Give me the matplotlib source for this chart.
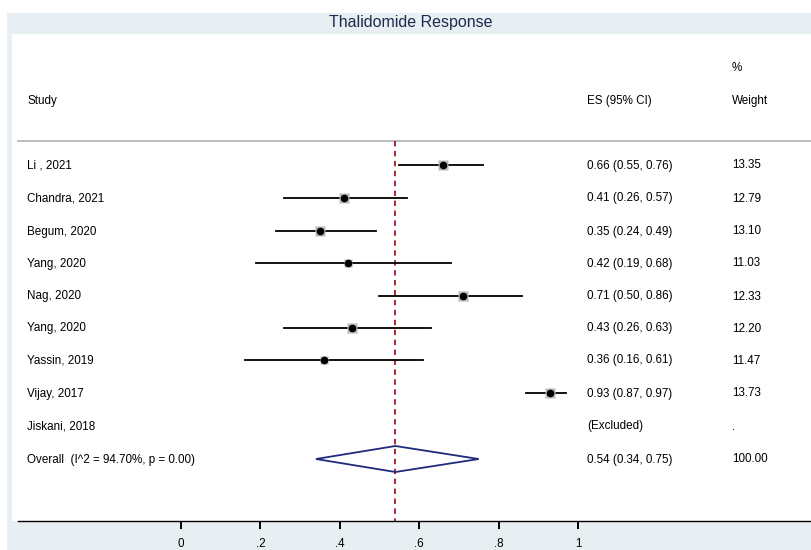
import numpy as np
import matplotlib.pyplot as plt
from matplotlib.patches import Rectangle, Polygon

plt.rcParams['font.family'] = ['Liberation Sans', 'DejaVu Sans']

studies = ['Li , 2021', 'Chandra, 2021', 'Begum, 2020', 'Yang, 2020', 'Nag, 2020',
           'Yang, 2020', 'Yassin, 2019', 'Vijay, 2017', 'Jiskani, 2018']
es = [0.66, 0.41, 0.35, 0.42, 0.71, 0.43, 0.36, 0.93, np.nan]
lo = [0.55, 0.26, 0.24, 0.19, 0.50, 0.26, 0.16, 0.87, np.nan]
hi = [0.76, 0.57, 0.49, 0.68, 0.86, 0.63, 0.61, 0.97, np.nan]
weights = [13.35, 12.79, 13.10, 11.03, 12.33, 12.20, 11.47, 13.73, np.nan]
es_labels = ['0.66 (0.55, 0.76)', '0.41 (0.26, 0.57)', '0.35 (0.24, 0.49)',
             '0.42 (0.19, 0.68)', '0.71 (0.50, 0.86)', '0.43 (0.26, 0.63)',
             '0.36 (0.16, 0.61)', '0.93 (0.87, 0.97)', '(Excluded)']
w_labels = ['13.35', '12.79', '13.10', '11.03', '12.33', '12.20', '11.47', '13.73', '.']
overall = 0.54
overall_lo = 0.34
overall_hi = 0.75
overall_label = 'Overall  (I^2 = 94.70%, p = 0.00)'
overall_es = '0.54 (0.34, 0.75)'
overall_w = '100.00'
xticks = [0, 0.2, 0.4, 0.6, 0.8, 1]
xticklabels = ['0', '.2', '.4', '.6', '.8', '1']

W, H = 811, 550
FS = 8.4
fig = plt.figure(figsize=(W / 100, H / 100), dpi=100, facecolor='white')
fig.patches.append(Rectangle((7 / W, 0), 1 - 7 / W, (H - 13) / H, transform=fig.transFigure,
                             facecolor='#e8eff2', edgecolor='none', zorder=-5))
fig.text(411 / W, 1 - 22 / H, 'Thalidomide Response', ha='center', va='center',
         fontsize=11.5, color='#1c2a4e')

ax = fig.add_axes([12 / W, 1 - 521 / H, 1 - 12 / W, (521 - 34) / H], zorder=2)
ax.set_facecolor('white')
x0 = 181
scale = 397
ax.set_xlim((12 - x0) / scale, (W - x0) / scale)
ax.set_ylim(521, 34)

def px(p):
    return (p - x0) / scale

for s in ['top', 'right', 'left']:
    ax.spines[s].set_visible(False)
ax.spines['bottom'].set_bounds(px(18), px(W))
ax.spines['bottom'].set_linewidth(1.0)
ax.set_yticks([])
ax.set_xticks(xticks)
ax.set_xticklabels(xticklabels, fontsize=FS)
ax.tick_params(axis='x', direction='out', length=6, width=1.4, pad=6)

rows = [165, 198, 231, 263, 296, 328, 360, 393, 426]
y_over = 459

# header
ax.text(px(27), 101, 'Study', fontsize=FS, va='center')
ax.text(px(587), 101, 'ES (95% CI)', fontsize=FS, va='center')
ax.text(px(732), 68, '%', fontsize=FS, va='center')
ax.text(px(732), 101, 'Weight', fontsize=FS, va='center')
ax.plot([px(18), px(W)], [141, 141], color='#b0b0b0', lw=1.2, clip_on=False)

for i, y in enumerate(rows):
    ax.text(px(27), y + 0.5, studies[i], fontsize=FS, va='center')
    ax.text(px(587), y + 0.5, es_labels[i], fontsize=FS, va='center')
    ax.text(px(732), y + 0.5, w_labels[i], fontsize=FS, va='center')
    if not np.isnan(es[i]):
        ax.plot([lo[i], hi[i]], [y, y], color='black', lw=1.3, zorder=3)
        ax.plot(es[i], y, marker='s', ms=weights[i] * 0.55, color='#b8b8b8',
                mec='none', zorder=3)
        ax.plot(es[i], y, marker='o', ms=4.5, color='black', zorder=4)

ax.text(px(27), y_over + 0.5, overall_label, fontsize=FS, va='center')
ax.text(px(587), y_over + 0.5, overall_es, fontsize=FS, va='center')
ax.text(px(732), y_over + 0.5, overall_w, fontsize=FS, va='center')
diamond = Polygon([[overall_lo, y_over], [overall, y_over - 13], [overall_hi, y_over],
                   [overall, y_over + 13]], closed=True, fill=False,
                  edgecolor='#1f2a7a', lw=1.3, zorder=3)
ax.add_patch(diamond)

ax.plot([overall, overall], [141, 521], color='#a01c24', lw=1.3,
        linestyle=(0, (3, 2.5)), zorder=2)

fig.savefig('out.png', dpi=100, facecolor=fig.get_facecolor())
